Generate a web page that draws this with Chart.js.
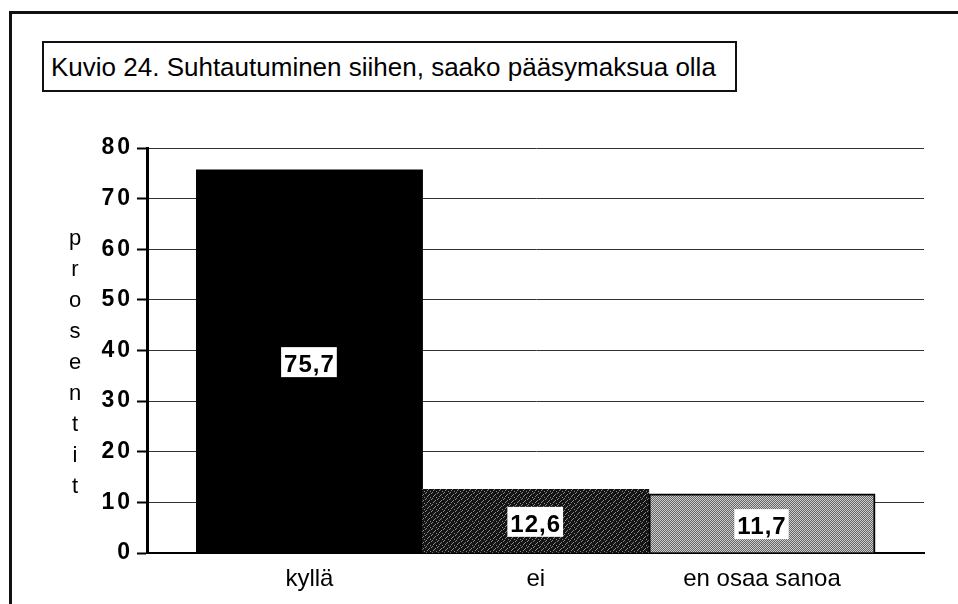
<!DOCTYPE html>
<html>
<head>
<meta charset="utf-8">
<script src="https://cdn.jsdelivr.net/npm/chart.js@4.4.0/dist/chart.umd.min.js"></script>
<style>
  body { margin: 0; background: #fff; width: 958px; height: 604px; overflow: hidden; position: relative;
         font-family: "Liberation Sans", Arial, sans-serif; }
  #frame { position: absolute; left: 9px; top: 11px; width: 1000px; height: 700px; border: 3px solid #111; }
  #title { position: absolute; left: 42px; top: 41px; width: 695px; height: 51px; box-sizing: border-box;
           border: 2px solid #111; padding-left: 7px; font-size: 26px; line-height: 49px; color: #000; background: #fff; }
  #myChart { position: absolute; left: 0; top: 0; }
</style>
</head>
<body>
<div id="frame"></div>
<div id="title">Kuvio 24. Suhtautuminen siihen, saako pääsymaksua olla</div>
<canvas id="myChart" width="958" height="604"></canvas>
<script>
const categories = ['kyllä', 'ei', 'en osaa sanoa'];
const shares = [75.7, 12.6, 11.7];
const yTicks = [0, 10, 20, 30, 40, 50, 60, 70, 80];
const yTitle = 'prosentit';

const FONT = '"Liberation Sans", Arial, sans-serif';

// small fixed dither tiles for the scanned fills
function makePattern(size, base, dot, dots) {
   const c = document.createElement('canvas');
   c.width = size; c.height = size;
   const g = c.getContext('2d');
   g.fillStyle = base;
   g.fillRect(0, 0, size, size);
   g.fillStyle = dot;
   dots.forEach(d => g.fillRect(d[0], d[1], 1, 1));
   return g.createPattern(c, 'repeat');
}
const darkFill = makePattern(6, '#141414', '#8a8a8a', [[0,0],[3,2],[1,4],[5,1],[4,5],[2,3]]);
const greyFill = makePattern(2, '#666666', '#cccccc', [[0,0],[1,1]]);

const valueBoxes = {
   id: 'valueBoxes',
   afterDatasetsDraw(chart) {
      const ctx = chart.ctx;
      const meta = chart.getDatasetMeta(0);
      ctx.save();
      ctx.font = 'bold 24px ' + FONT;
      ctx.letterSpacing = '1px';
      ctx.textAlign = 'left';
      ctx.textBaseline = 'alphabetic';
      meta.data.forEach((bar, i) => {
         const txt = shares[i].toFixed(1).replace('.', ',');
         const w = ctx.measureText(txt).width;
         const base = (bar.y + bar.base) / 2 + 11;
         ctx.fillStyle = '#fff';
         ctx.fillRect(bar.x - w / 2 - 3, base - 25, w + 5, 30);
         ctx.fillStyle = '#000';
         ctx.fillText(txt, bar.x - w / 2, base);
      });
      ctx.restore();
      // y tick labels are drawn after this (ticks.z = 1); the scan shows them spaced out
      ctx.letterSpacing = '3px';
   }
};

const stackedTitle = {
   id: 'stackedTitle',
   afterDraw(chart) {
      const ctx = chart.ctx;
      ctx.letterSpacing = '0px';
      ctx.save();
      ctx.font = '22px ' + FONT;
      ctx.fillStyle = '#000';
      ctx.textAlign = 'center';
      ctx.textBaseline = 'alphabetic';
      yTitle.split('').forEach((ch, i) => ctx.fillText(ch, 75, 245 + i * 31));
      ctx.restore();
   }
};

const ctx = document.getElementById('myChart').getContext('2d');
const myChart = new Chart(ctx, {
   type: 'bar',
   data: {
      datasets: [{
         data: shares.map((v, i) => ({ x: i, y: v })),
         backgroundColor: ['#000', darkFill, greyFill],
         borderColor: ['#000', '#111', '#000'],
         borderWidth: [0, 0, 2],
         borderSkipped: 'bottom',
         barPercentage: 1,
         categoryPercentage: 1
      }]
   },
   options: {
      responsive: false,
      animation: false,
      layout: { padding: { left: 0, right: 34, top: 148, bottom: 0 } },
      plugins: {
         legend: { display: false },
         tooltip: { enabled: false }
      },
      scales: {
         x: {
            type: 'linear',
            offset: false,
            min: -0.718,
            max: 2.716,
            afterBuildTicks: axis => { axis.ticks = categories.map((c, i) => ({ value: i })); },
            afterFit: axis => { axis.height = 51; },
            grid: { display: false, drawTicks: false, offset: false },
            border: { display: true, color: '#000', width: 2 },
            ticks: {
               callback: v => categories[v],
               color: '#000',
               padding: 12,
               maxRotation: 0,
               autoSkip: false,
               font: { size: 24, family: FONT }
            }
         },
         y: {
            min: 0,
            max: 80,
            afterBuildTicks: axis => { axis.ticks = yTicks.map(v => ({ value: v })); },
            afterFit: axis => { axis.width = 147; },
            border: { display: true, color: '#000', width: 3 },
            grid: {
               color: '#333',
               lineWidth: 1,
               borderDash: [1, 3],
               tickLength: 10,
               tickColor: '#000',
               tickWidth: 2,
               tickBorderDash: []
            },
            ticks: {
               z: 1,
               color: '#000',
               padding: 4,
               font: { size: 23, weight: 'bold', family: FONT }
            }
         }
      }
   },
   plugins: [valueBoxes, stackedTitle]
});
</script>
</body>
</html>
